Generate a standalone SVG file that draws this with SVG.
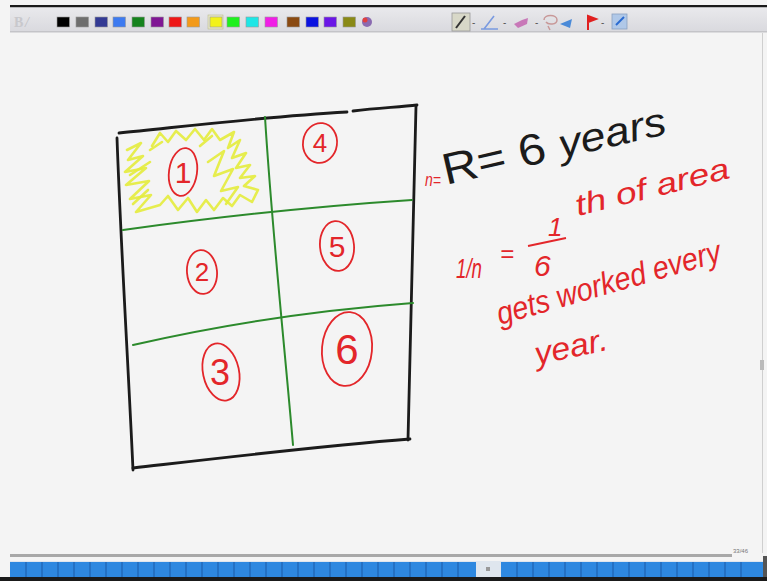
<svg xmlns="http://www.w3.org/2000/svg" width="767" height="581" viewBox="0 0 767 581">
<defs>
<style>
.ink{fill:none;stroke-linecap:round;stroke-linejoin:round}
.blk{stroke:#1b1b1b;stroke-width:2.8}
.grn{stroke:#2c8a2c;stroke-width:2}
.red{stroke:#e3262a;stroke-width:1.8;fill:none}
.yel{stroke:#e4ec3c;stroke-width:2.6;fill:none;stroke-linecap:round;stroke-linejoin:round;opacity:.9}
.rt{fill:#e3262a;font-family:"Liberation Sans",sans-serif;font-style:italic}
.bt{fill:#1b1b1b;font-family:"Liberation Sans",sans-serif}
.dg{fill:#e3262a;font-family:"Liberation Sans",sans-serif}
.sw{stroke:#999;stroke-width:.6}
.seg{fill:#2e88e0}
</style>
<linearGradient id="tb" x1="0" y1="0" x2="0" y2="1"><stop offset="0" stop-color="#e9e9ec"/><stop offset="1" stop-color="#d9d9de"/></linearGradient>
</defs>
<rect width="767" height="581" fill="#f4f4f4"/>
<g id="toolbar">
<rect x="10" y="5" width="757" height="2.5" fill="#1a1a1a"/>
<rect x="10" y="7.5" width="757" height="24.5" fill="url(#tb)"/>
<rect x="10" y="31" width="757" height="1.5" fill="#c4c4c8"/>
<text x="14" y="27" font-family="Liberation Serif,serif" font-size="14" font-weight="bold" fill="#c8c8cc">B</text>
<text x="25" y="27" font-family="Liberation Serif,serif" font-size="14" font-style="italic" fill="#c0c0c4">/</text>
<g class="sw">
<rect x="57" y="17" width="12.5" height="10" fill="#000"/>
<rect x="76" y="17" width="12.5" height="10" fill="#6e6e6e"/>
<rect x="95" y="17" width="12.5" height="10" fill="#333a94"/>
<rect x="113" y="17" width="12.5" height="10" fill="#3d7af0"/>
<rect x="132" y="17" width="12.5" height="10" fill="#16831e"/>
<rect x="151" y="17" width="12.5" height="10" fill="#7f1694"/>
<rect x="169" y="17" width="12.5" height="10" fill="#ee1616"/>
<rect x="187" y="17" width="12.5" height="10" fill="#f39a1a"/>
<rect x="208" y="15" width="15" height="14" fill="#e8e8c8" stroke="#b8b890"/>
<rect x="210" y="17" width="12" height="10" fill="#f2f21a"/>
<rect x="227" y="17" width="12.5" height="10" fill="#1ef01e"/>
<rect x="246" y="17" width="12.5" height="10" fill="#1ee6e6"/>
<rect x="265" y="17" width="12.5" height="10" fill="#f01ee6"/>
<rect x="287" y="17" width="12.5" height="10" fill="#8a4a12"/>
<rect x="306" y="17" width="12.5" height="10" fill="#0a12e0"/>
<rect x="324" y="17" width="12.5" height="10" fill="#6a16e6"/>
<rect x="343" y="17" width="12.5" height="10" fill="#8a8a16"/>
</g>
<circle cx="367" cy="22" r="5" fill="#8a6ab0"/>
<circle cx="365" cy="20" r="2.5" fill="#e04040"/>
<rect x="452" y="13" width="18" height="18" fill="#d8d8c8" stroke="#9a9a9a" stroke-width=".8"/>
<path d="M456,28 L465,16" stroke="#333" stroke-width="2"/>
<text x="472" y="26" font-family="Liberation Sans,sans-serif" font-size="10" fill="#555">-</text>
<path d="M484,29 L494,16 M481,29 L498,29" stroke="#7a9ae0" stroke-width="1.6" fill="none"/>
<text x="503" y="26" font-family="Liberation Sans,sans-serif" font-size="10" fill="#555">-</text>
<path d="M514,24 L522,20 L528,18 L527,24 L518,28 Z" fill="#c878b8"/>
<text x="535" y="26" font-family="Liberation Sans,sans-serif" font-size="10" fill="#555">-</text>
<path d="M544,20 C544,14 557,14 557,20 C557,25 548,25 546,22 M548,26 L550,30" stroke="#c89898" stroke-width="1.5" fill="none"/>
<path d="M560,24 L572,19 L570,28 Z" fill="#4a8ad8"/>
<path d="M588,30 L588,16 L596,19 L588,22" stroke="#e02020" stroke-width="2" fill="#e02020"/>
<text x="601" y="26" font-family="Liberation Sans,sans-serif" font-size="10" fill="#555">-</text>
<rect x="612" y="14" width="15" height="15" fill="#b0c8e8" stroke="#8aa0c0" stroke-width=".8"/>
<path d="M616,25 L624,17" stroke="#2a6ad0" stroke-width="2"/>
</g>
<g id="sheet-box" class="ink blk">
<path d="M119,133 C180,127 260,117 347,112 M353,111 C380,108 400,107 417,105"/>
<path d="M117,138 C121,250 128,360 133,470"/>
<path d="M133,468 C220,458 320,446 410,439"/>
<path d="M416,106 C413,220 410,330 408,440"/>
</g>
<g id="grid-lines" class="ink grn">
<path d="M265,117 C272,230 284,340 293,445"/>
<path d="M123,230 C210,218 320,206 412,200"/>
<path d="M133,345 C220,325 320,310 413,303"/>
</g>
<g id="shaded-cell-1">
<path class="yel" d="M127,150 L141,143 L128,160 L143,156 L125,172 L146,168 L126,185 L149,181 L130,199 L151,195 L136,212 L160,205 L168,196 L178,210 L188,198 L197,212 L206,200 L214,210 L223,198 L232,206 L240,195 L252,202 L258,190 L244,186 L255,176 L240,178 L250,165 L236,168 L246,153 L232,158 L240,140 L228,148 L234,132 L220,140 L212,129 L204,140 L195,129 L186,140 L176,131 L168,142 L160,133 L152,146"/>
<path class="yel" d="M208,162 L224,151 L214,176 L233,169 L221,191 L238,187 L226,204"/>
<path class="yel" d="M130,175 L150,162 M133,204 L148,190 M150,150 L162,142 M200,146 L212,136"/>
<g id="cell-1"><ellipse class="red" cx="183" cy="172" rx="14" ry="24" transform="rotate(8 183 172)"/><text class="dg" x="183" y="183" font-size="30" text-anchor="middle">1</text></g>
</g>
<g id="cell-4"><ellipse class="red" cx="320" cy="143" rx="17" ry="20" transform="rotate(8 320 143)"/><text class="dg" x="320" y="152" font-size="26" text-anchor="middle">4</text></g>
<g id="cell-2"><ellipse class="red" cx="202" cy="272" rx="15" ry="22" transform="rotate(-5 202 272)"/><text class="dg" x="202" y="281" font-size="26" text-anchor="middle">2</text></g>
<g id="cell-5"><ellipse class="red" cx="337" cy="246" rx="17" ry="25" transform="rotate(-5 337 246)"/><text class="dg" x="337" y="257" font-size="30" text-anchor="middle">5</text></g>
<g id="cell-3"><ellipse class="red" cx="221" cy="372" rx="18" ry="29" transform="rotate(-12 221 372)"/><text class="dg" x="220" y="385" font-size="36" text-anchor="middle">3</text></g>
<g id="cell-6"><ellipse class="red" cx="347" cy="349" rx="25" ry="37" transform="rotate(5 347 349)"/><text class="dg" x="347" y="364" font-size="42" text-anchor="middle">6</text></g>
<g id="notes">
<text class="rt" x="425" y="186" font-size="18" textLength="16" lengthAdjust="spacingAndGlyphs" font-style="normal">n=</text>
<text class="bt" x="446" y="185" font-size="44" transform="rotate(-13 446 185)" textLength="228" lengthAdjust="spacingAndGlyphs">R= 6 <tspan font-size="40" font-style="italic">years</tspan></text>
<text class="rt" x="456" y="278" font-size="28" textLength="26" lengthAdjust="spacingAndGlyphs" font-style="normal">1/n</text>
<text class="rt" x="500" y="262" font-size="24" font-style="normal">=</text>
<text class="rt" x="548" y="236" font-size="26" font-style="normal">1</text>
<path class="red" d="M528,246 L566,238" stroke-width="2"/>
<text class="rt" x="534" y="276" font-size="30" font-style="normal">6</text>
<text class="rt" x="578" y="216" font-size="30" transform="rotate(-14 578 216)" textLength="158" lengthAdjust="spacingAndGlyphs">th of area</text>
<text class="rt" x="500" y="325" font-size="32" transform="rotate(-16 500 325)" textLength="232" lengthAdjust="spacingAndGlyphs">gets worked every</text>
<text class="rt" x="537" y="365" font-size="32" transform="rotate(-12 537 365)" textLength="74" lengthAdjust="spacingAndGlyphs">year.</text>
</g>
<g id="statusbar">
<rect x="762" y="33" width="1" height="520" fill="#cfcfcf"/>
<rect x="760" y="360" width="4" height="10" fill="#bbb"/>
<rect x="10" y="554" width="722" height="3" fill="#a8a8a8"/>
<text x="733" y="553" font-family="Liberation Sans,sans-serif" font-size="6" fill="#777">33/46</text>
<rect x="10" y="561" width="757" height="17" fill="#dfe6ee"/>
<rect x="10" y="562" width="466" height="15" class="seg"/>
<rect x="501" y="562" width="262" height="15" class="seg"/>
<path d="M26,562 V577 M42,562 V577 M58,562 V577 M74,562 V577 M90,562 V577 M106,562 V577 M122,562 V577 M138,562 V577 M154,562 V577 M170,562 V577 M186,562 V577 M202,562 V577 M218,562 V577 M234,562 V577 M250,562 V577 M266,562 V577 M282,562 V577 M298,562 V577 M314,562 V577 M330,562 V577 M346,562 V577 M362,562 V577 M378,562 V577 M394,562 V577 M410,562 V577 M426,562 V577 M442,562 V577 M458,562 V577 M517,562 V577 M533,562 V577 M549,562 V577 M565,562 V577 M581,562 V577 M597,562 V577 M613,562 V577 M629,562 V577 M645,562 V577 M661,562 V577 M677,562 V577 M693,562 V577 M709,562 V577 M725,562 V577 M741,562 V577" stroke="#1a5aa8" stroke-width="1"/>
<rect x="486" y="567" width="4" height="4" fill="#999"/>
<rect x="0" y="577" width="767" height="4" fill="#1a1a1a"/>
<rect x="763" y="556" width="4" height="21" fill="#555"/>
</g>
</svg>
